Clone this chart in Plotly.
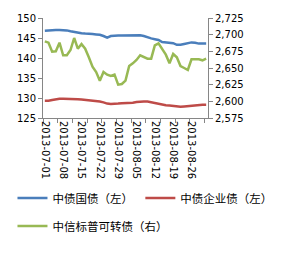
import pandas as pd
import plotly.graph_objects as go

dates = [d.strftime("%Y-%m-%d") for d in pd.bdate_range("2013-07-01", "2013-08-30")]

gov_bond = [146.8, 146.9, 147.0, 147.0, 147.0, 147.0, 146.9, 146.7, 146.5, 146.3,
            146.2, 146.1, 146.1, 146.0, 145.9, 145.8, 145.5, 145.1, 145.5, 145.6,
            145.6, 145.6, 145.6, 145.7, 145.7, 145.7, 145.7, 145.5, 145.1, 144.9,
            144.7, 144.5, 144.0, 143.9, 143.9, 143.7, 143.3, 143.3, 143.5, 143.7,
            143.9, 143.8, 143.6, 143.6, 143.6]
corp_bond = [129.3, 129.3, 129.5, 129.7, 129.8, 129.8, 129.8, 129.8, 129.8, 129.7,
             129.6, 129.5, 129.5, 129.4, 129.3, 129.1, 128.9, 128.6, 128.5, 128.5,
             128.6, 128.7, 128.7, 128.7, 128.8, 129.0, 129.1, 129.1, 129.1, 128.9,
             128.7, 128.6, 128.4, 128.2, 128.1, 128.0, 127.9, 127.8, 127.9, 128.0,
             128.1, 128.2, 128.3, 128.3, 128.3]
convertible = [2690, 2688, 2674.5, 2675, 2688, 2669, 2669, 2677, 2695, 2679,
               2686, 2679, 2666, 2652, 2644, 2631, 2644, 2640, 2638, 2640,
               2625, 2626, 2631, 2653, 2657, 2662, 2669, 2666, 2664, 2664,
               2684, 2687, 2678, 2670, 2657, 2671, 2666, 2653, 2650, 2647,
               2663, 2663.5, 2663, 2661.5, 2664]

names = ["中债国债（左）", "中债企业债（左）", "中信标普可转债（右）"]
colors = ["#4A7EBB", "#BE4B48", "#98B954"]
label_every = 5
tick_every = 4

x = list(range(len(dates)))
fig = go.Figure()
fig.add_trace(go.Scatter(x=x, y=gov_bond, name=names[0], mode="lines",
                         line=dict(color=colors[0], width=2.5), legend="legend"))
fig.add_trace(go.Scatter(x=x, y=corp_bond, name=names[1], mode="lines",
                         line=dict(color=colors[1], width=2.5), legend="legend2"))
fig.add_trace(go.Scatter(x=x, y=convertible, name=names[2], mode="lines",
                         line=dict(color=colors[2], width=2.5), yaxis="y2", legend="legend3"))

axis_font = dict(family="DejaVu Sans", size=10, color="#000000")
legend_font = dict(family="Noto Sans CJK SC", size=11.5, color="#000000")
axcol = "#868686"


def leg(xpos, ypos):
    return dict(orientation="h", x=xpos, y=ypos, xanchor="left", yanchor="middle",
                font=legend_font, itemwidth=30, bgcolor="rgba(0,0,0,0)")


fig.update_layout(
    width=289, height=254,
    margin=dict(l=35, r=48, t=14, b=123),
    paper_bgcolor="white", plot_bgcolor="white",
    showlegend=True,
    xaxis=dict(range=[-0.5, len(dates) - 0.5], tickmode="array",
               tickvals=x[::label_every], ticktext=dates[::label_every],
               tickangle=90, ticks="", showgrid=False, zeroline=False,
               showline=True, linecolor=axcol, linewidth=1, tickfont=axis_font,
               minor=dict(ticks="outside", tick0=-0.5, dtick=tick_every, ticklen=4,
                          tickcolor=axcol, showgrid=False)),
    yaxis=dict(range=[125, 150], dtick=5, ticks="outside", ticklen=4, tickcolor=axcol,
               showline=True, linecolor=axcol, linewidth=1, showgrid=False,
               zeroline=False, tickfont=axis_font),
    yaxis2=dict(range=[2575, 2725], dtick=25, overlaying="y", side="right",
                ticks="outside", ticklen=4, tickcolor=axcol, showline=True,
                linecolor=axcol, linewidth=1, showgrid=False, zeroline=False,
                tickformat=",", tickfont=axis_font),
    legend=leg(-0.185, -0.80),
    legend2=leg(0.59, -0.80),
    legend3=leg(-0.185, -1.08),
)
fig.write_html("out.html")
